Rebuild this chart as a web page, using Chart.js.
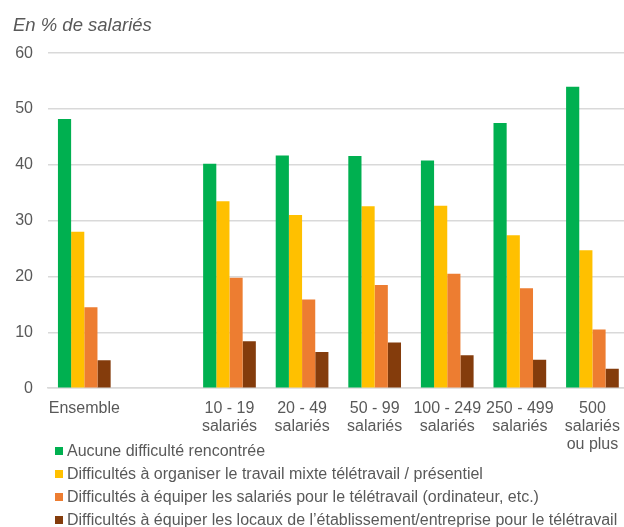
<!DOCTYPE html>
<html lang="fr">
<head>
<meta charset="utf-8">
<script src="https://cdn.jsdelivr.net/npm/chart.js@4"></script>
<style>
    html, body { margin: 0; padding: 0; background: #fff; overflow: hidden; }
    body { width: 624px; height: 527px; position: relative; font-family: "Liberation Sans", Arial, sans-serif; }
    #chart { position: absolute; left: 0; top: 0; }
    #legend { position: absolute; left: 55px; top: 439px; margin: 0; padding: 0; list-style: none; color: #595959; font-size: 16px; }
    #legend li { display: flex; align-items: center; height: 23px; white-space: nowrap; }
    #legend .box { width: 8px; height: 8px; margin-right: 4px; flex: none; }
</style>
</head>
<body>
<canvas id="chart" width="632" height="465"></canvas>
<ul id="legend"></ul>
<script>
// Données
const categories = [
    'Ensemble',
    '',
    ['10 - 19', 'salariés'],
    ['20 - 49', 'salariés'],
    ['50 - 99', 'salariés'],
    ['100 - 249', 'salariés'],
    ['250 - 499', 'salariés'],
    ['500', 'salariés', 'ou plus']
];
const seriesNames = [
    'Aucune difficulté rencontrée',
    'Difficultés à organiser le travail mixte télétravail / présentiel',
    'Difficultés à équiper les salariés pour le télétravail (ordinateur, etc.)',
    'Difficultés à équiper les locaux de l’établissement/entreprise pour le télétravail'
];
const aucune = [48.2, null, 40.2, 41.7, 41.6, 40.8, 47.5, 54.0];
const organiser = [28.0, null, 33.5, 31.0, 32.6, 32.7, 27.4, 24.7];
const equiperSalaries = [14.5, null, 19.8, 15.9, 18.5, 20.5, 17.9, 10.5];
const equiperLocaux = [5.0, null, 8.4, 6.5, 8.2, 5.9, 5.1, 3.5];
const yTicks = [0, 10, 20, 30, 40, 50, 60];

const colors = ['#00B050', '#FFC000', '#ED7D31', '#843C0C'];
const textColor = '#595959';
const fontFamily = '"Liberation Sans", Arial, sans-serif';

const allSeries = [aucune, organiser, equiperSalaries, equiperLocaux];

document.addEventListener('DOMContentLoaded', function () {
    const ctx = document.getElementById('chart');
    new Chart(ctx, {
        type: 'bar',
        data: {
            labels: categories,
            datasets: allSeries.map((values, i) => ({
                label: seriesNames[i],
                data: values,
                backgroundColor: colors[i],
                borderWidth: 0
            }))
        },
        options: {
            responsive: false,
            animation: false,
            categoryPercentage: 0.726,
            barPercentage: 1,
            layout: { padding: { left: 13, right: 0, top: 0, bottom: 0 } },
            plugins: {
                legend: { display: false },
                tooltip: { enabled: false },
                title: {
                    display: true,
                    text: 'En % de salariés',
                    align: 'start',
                    color: textColor,
                    font: { family: fontFamily, size: 18.5, style: 'italic', weight: 'normal', lineHeight: 1.2 },
                    padding: { top: 15, bottom: 16 }
                }
            },
            scales: {
                x: {
                    grid: { display: false, drawTicks: false },
                    border: { display: true, color: '#D9D9D9', width: 1.5 },
                    ticks: {
                        color: textColor,
                        autoSkip: false,
                        maxRotation: 0,
                        minRotation: 0,
                        padding: 12,
                        font: { family: fontFamily, size: 16, lineHeight: 1.1 }
                    }
                },
                y: {
                    min: yTicks[0],
                    max: yTicks[yTicks.length - 1],
                    afterFit: function (axis) { axis.width = 35; },
                    grid: { color: '#D9D9D9', lineWidth: 1.5, drawTicks: false },
                    border: { display: false },
                    ticks: {
                        stepSize: yTicks[1] - yTicks[0],
                        color: textColor,
                        padding: 15,
                        font: { family: fontFamily, size: 16 }
                    }
                }
            }
        }
    });

    // Légende HTML
    const legend = document.getElementById('legend');
    seriesNames.forEach((name, i) => {
        const item = document.createElement('li');
        item.innerHTML = `<span class="box" style="background:${colors[i]}"></span><span>${name}</span>`;
        legend.appendChild(item);
    });
});
</script>
</body>
</html>
